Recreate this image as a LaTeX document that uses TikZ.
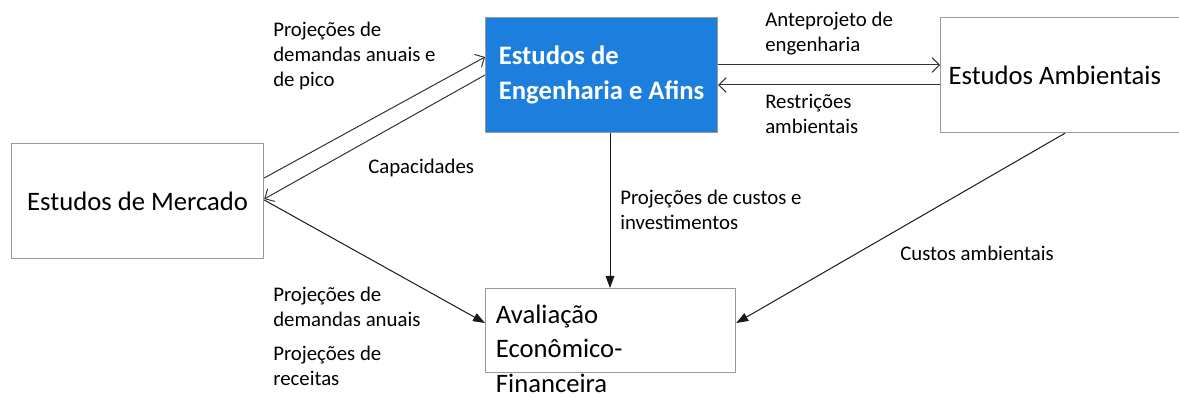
\documentclass[tikz,border=0pt]{standalone}
\usepackage{fontspec}
\setmainfont{Carlito}
\usetikzlibrary{arrows.meta, positioning}
\definecolor{engblue}{RGB}{28,127,221}
\tikzset{%
  box/.style={draw=black!40, line width=0.9pt, rectangle, inner sep=0pt,
    minimum width=#1, font=\fontsize{20}{26}\selectfont},
  box/.default=189pt,
  lbl/.style={align=left, inner sep=0pt, anchor=north west,
    font=\fontsize{15.6}{18.6}\selectfont},
  move/.style={draw=black!80, line width=0.75pt,
    -{Straight Barb[length=5.5pt,width=11pt,line width=0.75pt]}},
  feed/.style={draw=black!90, line width=0.75pt,
    -{Triangle[length=9pt,width=6.5pt]}},
}

\begin{document}
\begin{tikzpicture}[x=0.75pt, y=-0.75pt]
      \useasboundingbox (0,0) rectangle (1179,399);
      \node[box=189pt, minimum height=86.25pt, anchor=north west] (merc)
        at (11,143) {Estudos de Mercado};
      \node[box=174pt, minimum height=86.25pt, anchor=north west,
        fill=engblue, text=white, align=left, font=\fontsize{20}{26}\selectfont\bfseries]
        (eng) at (485,17) {Estudos de\\Engenharia e Afins};
      \node[box=184pt, minimum height=86.25pt, anchor=north west, align=flush left,
        text width=172pt, inner xsep=6pt] (amb) at (940,17) {Estudos Ambientais};
      \node[box=187.5pt, anchor=north west, align=left, text width=172pt,
        inner xsep=7.5pt, inner ysep=12pt, text depth=25pt] (aval)
        at (485,288) {Avaliação\\Econômico-\\Financeira};
      % connectors
      \draw[move] (merc.east |- 0,178) -- (eng.west |- 0,57);
      \draw[move] (eng.west |- 0,75) -- (merc.east |- 0,199);
      \draw[move] (eng.east |- 0,65) -- (amb.west |- 0,65);
      \draw[move] (amb.west |- 0,85) -- (eng.east |- 0,85);
      \draw[feed] (eng.south -| 610,0) -- (aval.north -| 610,0);
      \draw[feed] (merc.east |- 0,200) -- (aval.west |- 0,323);
      \draw[feed] (amb.south -| 1065,0) -- (aval.east |- 0,323);
      % labels
      \node[lbl] (dem) at (273,22) {Projeções de\\demandas anuais e\\de pico};
      \node[lbl] (cap) at (368,159) {Capacidades};
      \node[lbl] (ante) at (765,12) {Anteprojeto de\\engenharia};
      \node[lbl] (rest) at (765,94) {Restrições\\ambientais};
      \node[lbl] (cust) at (620,190) {Projeções de custos e\\investimentos};
      \node[lbl] (camb) at (900,246) {Custos ambientais};
      \node[lbl] (dema) at (273,287) {Projeções de\\demandas anuais};
      \node[lbl] (rec) at (273,346) {Projeções de\\receitas};
    \end{tikzpicture}
\end{document}
